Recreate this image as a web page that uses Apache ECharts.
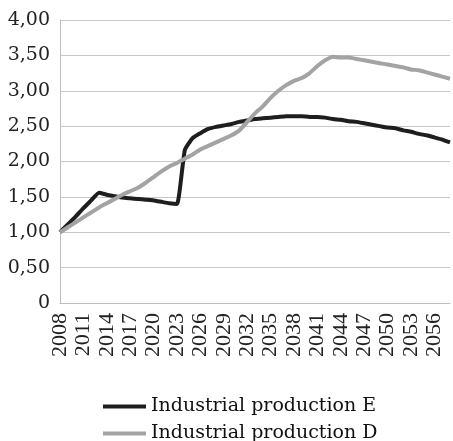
<!DOCTYPE html>
<html><head><meta charset="utf-8">
<script src="https://cdn.jsdelivr.net/npm/echarts@6/dist/echarts.min.js"></script>
<style>html,body{margin:0;padding:0;background:#fff}#c{width:453px;height:441px}</style>
</head><body><div id="c"></div>
<script>
const years = [];
for (let y = 2008; y <= 2058; y++) years.push(String(y));
const seriesNames = ['Industrial production E', 'Industrial production D'];
const prodE = [1.00,1.11,1.22,1.34,1.45,1.56,1.53,1.51,1.49,1.48,1.47,1.46,1.45,1.43,1.41,1.40,2.16,2.33,2.40,2.46,2.49,2.51,2.53,2.56,2.58,2.60,2.61,2.62,2.63,2.64,2.64,2.64,2.63,2.63,2.62,2.60,2.59,2.57,2.56,2.54,2.52,2.50,2.48,2.47,2.44,2.42,2.39,2.37,2.34,2.31,2.27];
const prodD = [1.00,1.07,1.14,1.21,1.28,1.35,1.41,1.47,1.53,1.58,1.63,1.70,1.78,1.86,1.93,1.98,2.04,2.10,2.17,2.22,2.27,2.32,2.37,2.44,2.56,2.68,2.78,2.90,3.00,3.08,3.14,3.18,3.25,3.35,3.43,3.48,3.47,3.47,3.45,3.43,3.41,3.39,3.37,3.35,3.33,3.30,3.29,3.26,3.23,3.20,3.17];
const yTicks = {min: 0, max: 4, interval: 0.5};

const legendText = {fontFamily: 'DejaVu Serif', fontSize: 19, color: '#111'};
const chart = echarts.init(document.getElementById('c'), null, {renderer: 'canvas'});
chart.setOption({
  animation: false,
  grid: {left: 60, right: 3, top: 20, bottom: 138, containLabel: false},
  legend: [
    {left: 98, top: 392, itemWidth: 43, itemHeight: 4, icon: 'rect', textStyle: legendText, data: [seriesNames[0]]},
    {left: 98, top: 419, itemWidth: 43, itemHeight: 4, icon: 'rect', textStyle: legendText, data: [seriesNames[1]]}
  ],
  xAxis: {
    type: 'category', data: years, boundaryGap: false,
    axisLine: {lineStyle: {color: '#bdbdbd', width: 1}},
    axisTick: {show: false},
    axisLabel: {interval: 2, rotate: 90, fontFamily: 'Liberation Serif', fontSize: 22, color: '#222', margin: 10},
    splitLine: {show: false}
  },
  yAxis: {
    type: 'value', min: yTicks.min, max: yTicks.max, interval: yTicks.interval,
    axisLine: {show: true, lineStyle: {color: '#bdbdbd', width: 1}},
    axisTick: {show: false},
    axisLabel: {fontFamily: 'DejaVu Serif', fontSize: 19, color: '#222', margin: 10,
      formatter: v => v === 0 ? '0' : v.toFixed(2).replace('.', ',')},
    splitLine: {lineStyle: {color: '#c8c8c8', width: 1}}
  },
  series: [
    {name: seriesNames[0], type: 'line', data: prodE, symbol: 'none', smooth: 0.15,
     lineStyle: {color: '#1e1e1e', width: 4}, itemStyle: {color: '#1e1e1e'}},
    {name: seriesNames[1], type: 'line', data: prodD, symbol: 'none', smooth: 0.15,
     lineStyle: {color: '#a3a3a3', width: 4}, itemStyle: {color: '#a3a3a3'}}
  ]
});
</script></body></html>
